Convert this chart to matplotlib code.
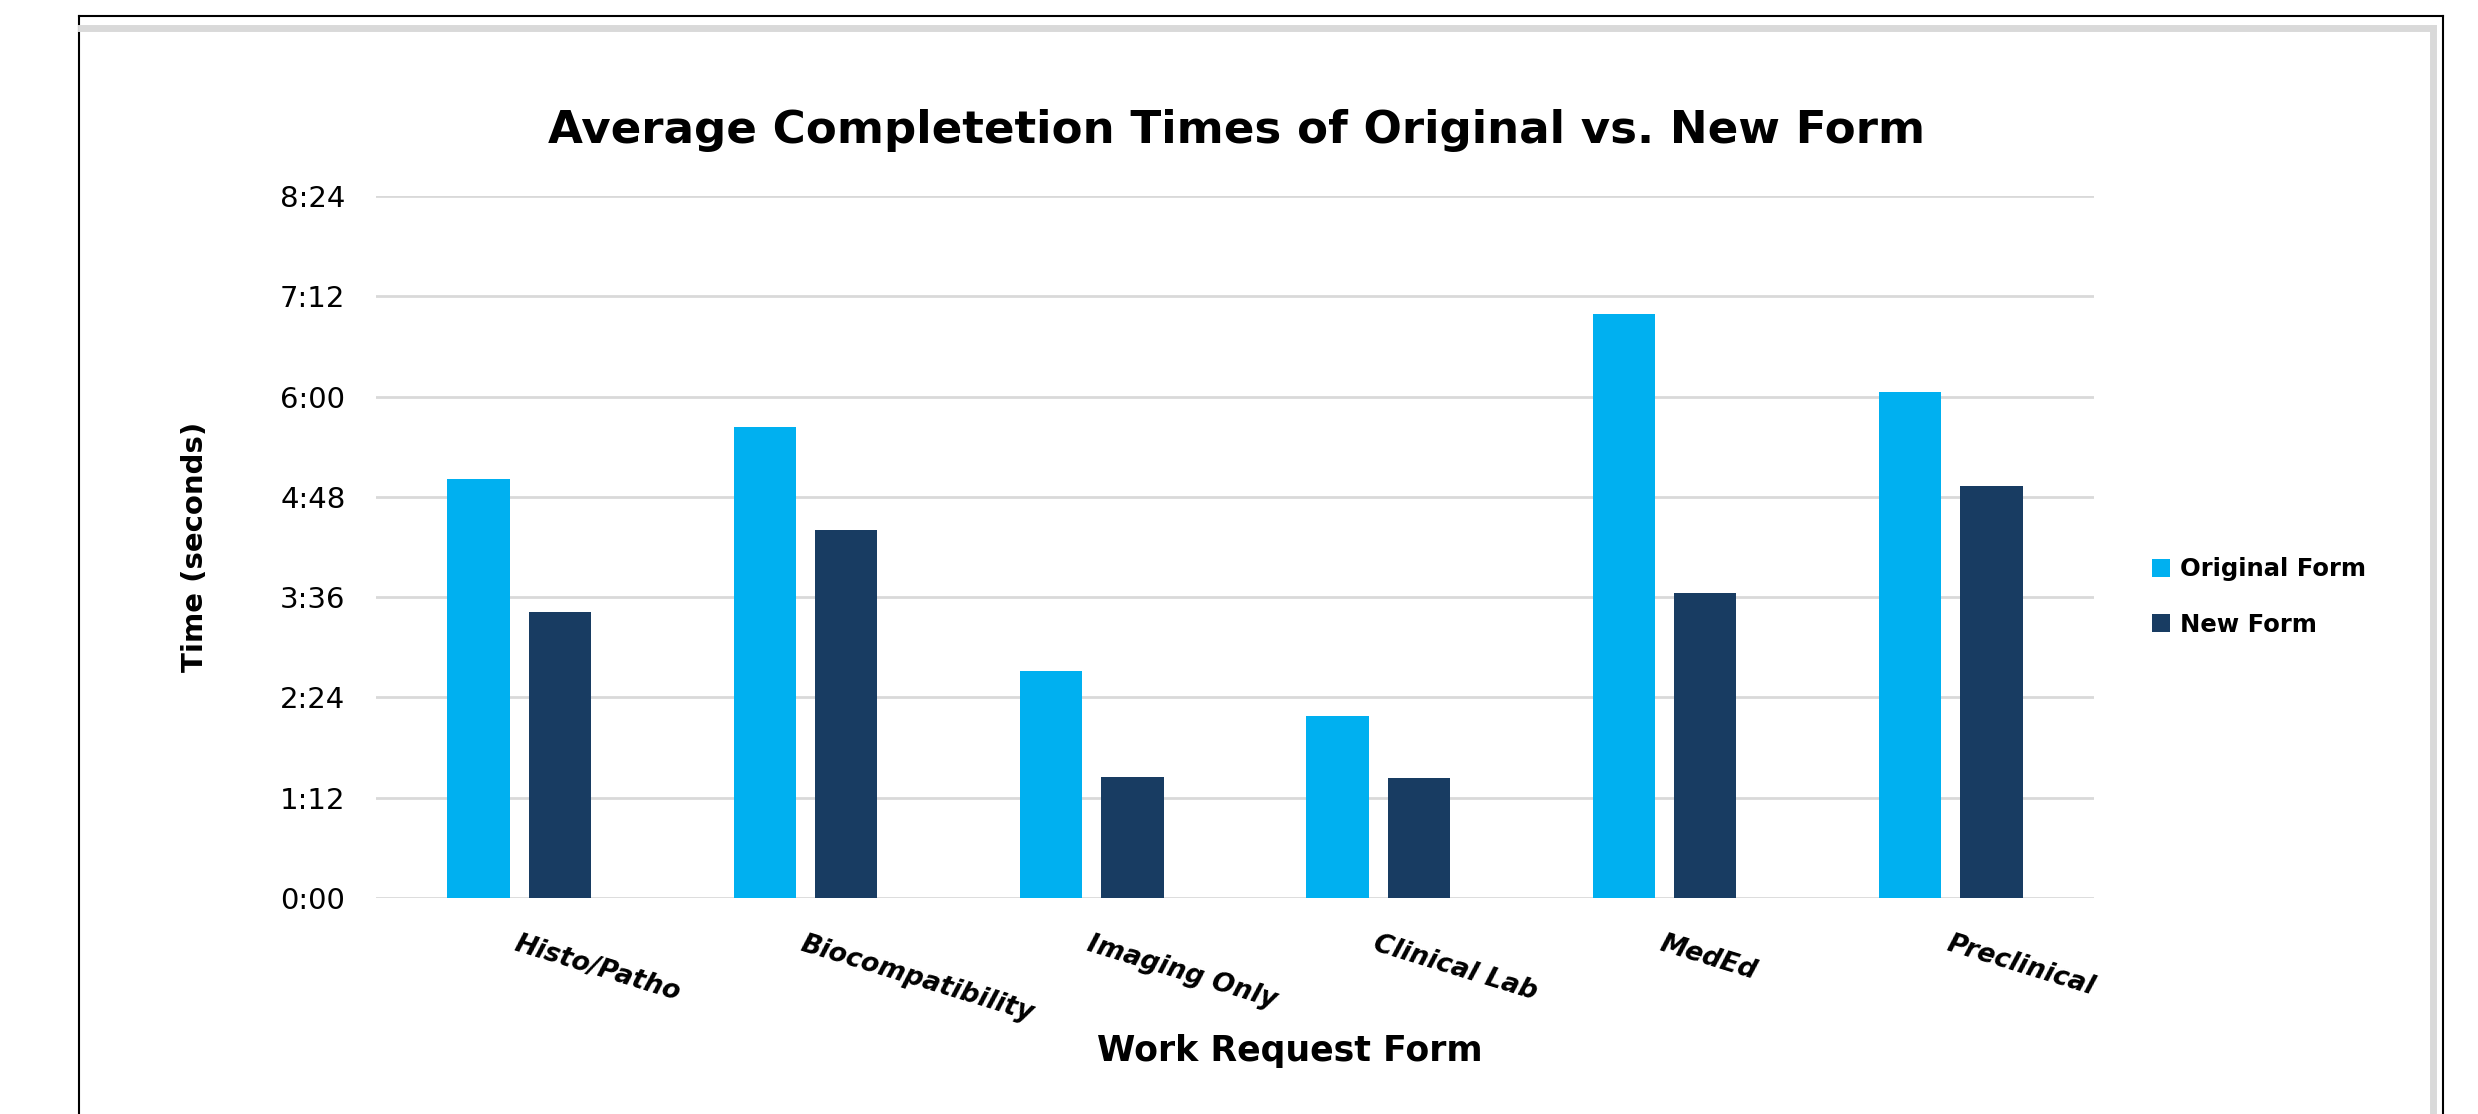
import matplotlib.pyplot as plt
import numpy as np
from matplotlib.lines import Line2D
from matplotlib.ticker import FuncFormatter

# Average completion times in seconds
categories = ['Histo/Patho', 'Biocompatibility', 'Imaging Only', 'Clinical Lab', 'MedEd', 'Preclinical']
original_form = [301, 338, 163, 131, 419, 363]
new_form = [205, 264, 87, 86, 219, 296]
series_names = ['Original Form', 'New Form']
y_ticks = [0, 72, 144, 216, 288, 360, 432, 504]

W, H = 2478, 1114
fig = plt.figure(figsize=(W / 100, H / 100), dpi=100)
ax = fig.add_axes([376 / W, 1 - 898 / H, (2094 - 376) / W, (898 - 196) / H])

x = np.arange(len(categories))
bw = 0.217
off = 0.142
ax.bar(x - off, original_form, bw, color='#00b0f0', label=series_names[0], zorder=3)
ax.bar(x + off, new_form, bw, color='#183c62', label=series_names[1], zorder=3)

ax.set_xlim(-0.5, len(categories) - 0.5)
ax.set_ylim(0, 504)
ax.set_yticks(y_ticks)
ax.yaxis.set_major_formatter(FuncFormatter(lambda v, p: f'{int(v) // 60}:{int(v) % 60:02d}'))
ax.grid(axis='y', color='#d9d9d9', linewidth=2, zorder=0)
ax.set_axisbelow(True)
for s in ax.spines.values():
    s.set_visible(False)
ax.tick_params(axis='y', length=0, pad=22, labelsize=21)
ax.tick_params(axis='x', length=0, pad=24)

ax.set_xticks(x)
ax.set_xticklabels(categories, rotation=-17, ha='left', va='top', rotation_mode='anchor',
                   fontsize=19, fontweight='bold', fontstyle='italic')

ax.set_ylabel('Time (seconds)', fontsize=21, fontweight='heavy')
ax.yaxis.set_label_coords(-0.097, 0.5)
fig.text(1290 / W, 1 - 1051 / H, 'Work Request Form', ha='center', va='center',
         fontsize=25, fontweight='bold')
fig.text(1237 / W, 1 - 131 / H, 'Average Completetion Times of Original vs. New Form',
         ha='center', va='center', fontsize=32.5, fontweight='bold')

fig.legend(loc='center left', bbox_to_anchor=(2130 / W, 1 - 597 / H), frameon=False,
           prop={'size': 17.5, 'weight': 'bold'}, handlelength=0.75, handleheight=0.75,
           handletextpad=0.4, labelspacing=1.3)

# border of the screenshot
fig.add_artist(Line2D([79 / W, 79 / W], [0, 1 - 16 / H], color='black', lw=1.5, transform=fig.transFigure))
fig.add_artist(Line2D([79 / W, 2443 / W], [1 - 16 / H, 1 - 16 / H], color='black', lw=1.5, transform=fig.transFigure))
fig.add_artist(Line2D([2443 / W, 2443 / W], [0, 1 - 16 / H], color='black', lw=1.5, transform=fig.transFigure))
fig.add_artist(Line2D([81 / W, 2433 / W], [1 - 28 / H, 1 - 28 / H], color='#d9d9d9', lw=5, transform=fig.transFigure))
fig.add_artist(Line2D([2433 / W, 2433 / W], [0, 1 - 28 / H], color='#d9d9d9', lw=5, transform=fig.transFigure))

fig.savefig('out.png', dpi=100)
